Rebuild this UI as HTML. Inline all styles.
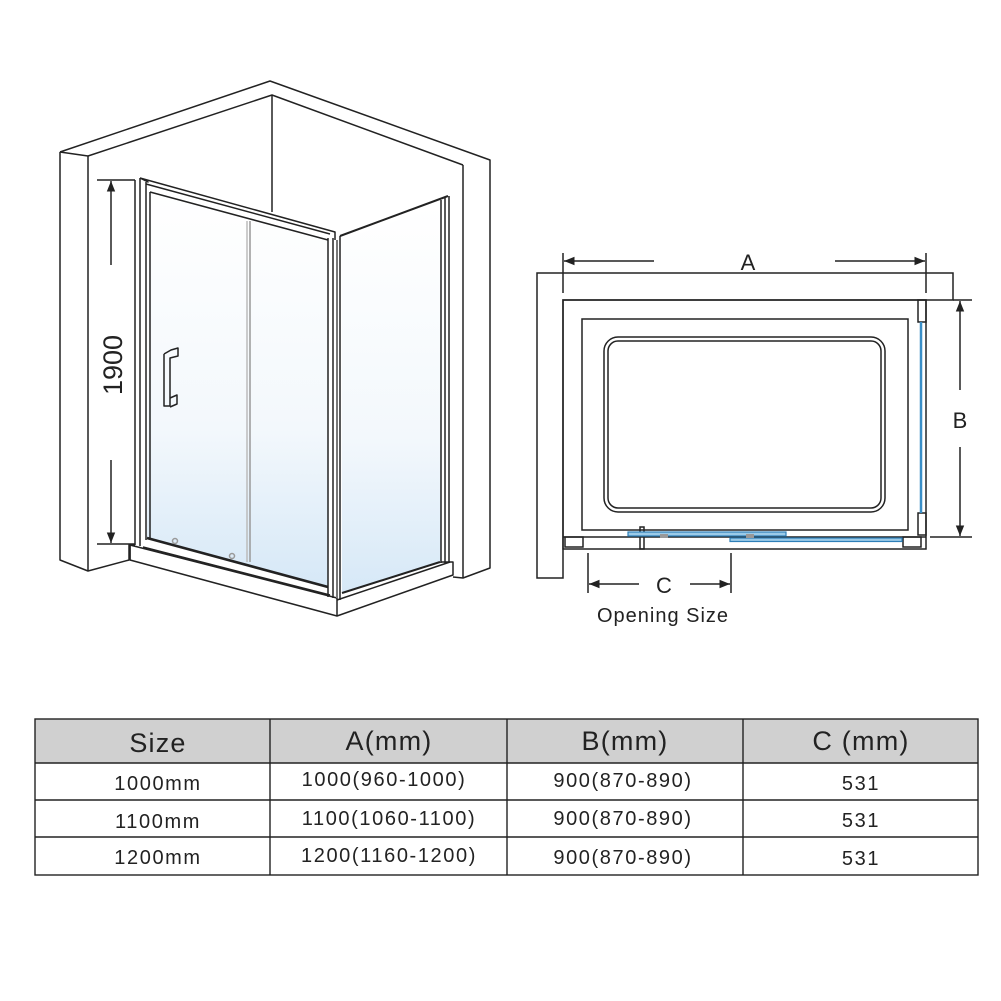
<!DOCTYPE html>
<html><head><meta charset="utf-8"><style>
html,body{margin:0;padding:0;background:#fff;}
svg{display:block;}
text{font-family:"Liberation Sans",sans-serif;fill:#222;}
</style></head><body>
<svg width="1001" height="1001" viewBox="0 0 1001 1001" xmlns="http://www.w3.org/2000/svg">
<defs>
<linearGradient id="gl" x1="0" y1="0" x2="0" y2="1">
<stop offset="0" stop-color="#ffffff"/>
<stop offset="0.6" stop-color="#f3f8fc"/>
<stop offset="1" stop-color="#d6e8f7"/>
</linearGradient>
<marker id="ar" viewBox="0 0 10 10" refX="10" refY="5" markerWidth="7" markerHeight="7" orient="auto-start-reverse"><path d="M0,1 L10,5 L0,9 z" fill="#222"/></marker>
</defs>
<g fill="none" stroke="#222" stroke-width="1.5" stroke-linejoin="round">
<path d="M60,152 L270,81 L490,160 L490,568 L463,578 L453,577"/>
<path d="M60,152 L88,156 L272,95 L463,165"/>
<path d="M272,95 L272,212"/>
<path d="M60,152 L60,560 L88,571 L129,560 L129,545 L135,545"/>
<path d="M88,156 L88,571"/>
<path d="M463,165 L463,578"/>
<path d="M130,545 L130,560 L337,616 L453,575 L453,562 L440,562"/>
<path d="M130,560 L130,545 L337,598 L337,616"/>
<path d="M337,600 L450,562"/>
<path d="M143,547 L330,595"/>
<polygon points="150,192 328,240 328,587 147,538" fill="url(#gl)" stroke="none"/>
<polygon points="342,240 441,205 441,562 342,593" fill="url(#gl)" stroke="none"/>
<path d="M135,180 L135,545 M140,178 L140,546 M146,182 L146,540 M150,192 L150,538"/>
<path d="M140,178 L335,232 L335,240 M146,184 L330,234 M150,192 L328,240"/>
<path d="M140,178 L148,182 L145,180"/>
<path d="M147,538 L328,587" stroke-width="2.6"/>
<path d="M250,221 L250,562" stroke="#999"/>
<path d="M247,221 L247,562" stroke="#bbb"/>
<path d="M328,238 L328,597 M333,238 L333,598 M340,236 L340,600"/>
<path d="M337,240 L337,598" stroke="#777" stroke-width="2"/>
<path d="M340,236 L448,196" stroke-width="2"/>
<path d="M342,593 L440,562" stroke-width="2"/>
<path d="M441,200 L441,563 M445,198 L445,563 M449,196 L449,562"/>
<path d="M164,354 L164,406 L170,406 L170,358 L178,356 L178,348 L171,350 L164,354"/>
<path d="M170,398 L177,395 L177,404 L170,407"/>
<circle cx="175" cy="541" r="2.5" stroke="#999"/>
<circle cx="232" cy="556" r="2.5" stroke="#999"/>
<path d="M97,180 L135,180 M97,544 L135,544"/>
<path d="M111,265 L111,181" marker-end="url(#ar)"/>
<path d="M111,460 L111,543" marker-end="url(#ar)"/>
</g>
<text x="0" y="0" font-size="27" text-anchor="middle" transform="translate(122,365) rotate(-90)">1900</text>

<g fill="none" stroke="#222" stroke-width="1.5">
<path d="M537,273 L953,273 L953,300 L563,300 L563,578 L537,578 Z"/>
<rect x="563" y="300" width="363" height="249"/>
<rect x="582" y="319" width="326" height="211"/>
<rect x="604" y="337" width="281" height="175" rx="14"/>
<rect x="608" y="341" width="273" height="167" rx="10"/>
<path d="M563,253 L563,293 M926,253 L926,293"/>
<path d="M654,261 L564,261" marker-end="url(#ar)"/>
<path d="M835,261 L925,261" marker-end="url(#ar)"/>
<path d="M953,300 L972,300 M930,537 L972,537"/>
<path d="M960,390 L960,301" marker-end="url(#ar)"/>
<path d="M960,447 L960,536" marker-end="url(#ar)"/>
<path d="M588,553 L588,593 M731,553 L731,593"/>
<path d="M639,584 L589,584" marker-end="url(#ar)"/>
<path d="M690,584 L730,584" marker-end="url(#ar)"/>
<rect x="918" y="300" width="8" height="22"/>
<rect x="918" y="513" width="8" height="22"/>
<path d="M563,537 L926,537"/>
<rect x="565" y="537" width="18" height="10"/>
<rect x="903" y="537" width="18" height="10"/>
<rect x="640" y="527" width="4" height="22"/>
</g>
<line x1="921" y1="322" x2="921" y2="513" stroke="#3a8fc8" stroke-width="2.5"/>
<rect x="628" y="532" width="158" height="4" fill="#9ccbe8" stroke="#2e7fb8" stroke-width="1.2"/>
<rect x="730" y="538" width="172" height="3.5" fill="#9ccbe8" stroke="#2e7fb8" stroke-width="1.2"/>
<rect x="660" y="534" width="8" height="4" fill="#999"/>
<rect x="746" y="534" width="8" height="4" fill="#999"/>
<text x="748" y="270" font-size="22" text-anchor="middle">A</text>
<text x="960" y="428" font-size="22" text-anchor="middle">B</text>
<text x="664" y="593" font-size="22" text-anchor="middle">C</text>
<text x="663" y="622" font-size="20" text-anchor="middle" letter-spacing="1">Opening Size</text>

<rect x="35" y="719" width="943" height="44" fill="#d0d0d0"/>
<g stroke="#222" stroke-width="1.4" fill="none">
<rect x="35" y="719" width="943" height="156"/>
<path d="M35,763 L978,763 M35,800 L978,800 M35,837 L978,837"/>
<path d="M270,719 L270,875 M507,719 L507,875 M743,719 L743,875"/>
</g>
<g font-size="27" text-anchor="middle" letter-spacing="1.2">
<text x="158" y="752">Size</text>
<text x="389" y="750">A(mm)</text>
<text x="625" y="750">B(mm)</text>
<text x="861" y="750">C (mm)</text>
</g>
<g font-size="20" text-anchor="middle" letter-spacing="1.6">
<text x="158" y="790">1000mm</text>
<text x="384" y="786">1000(960-1000)</text>
<text x="623" y="787">900(870-890)</text>
<text x="861" y="790">531</text>
<text x="158" y="828">1100mm</text>
<text x="389" y="825">1100(1060-1100)</text>
<text x="623" y="825">900(870-890)</text>
<text x="861" y="827">531</text>
<text x="158" y="864">1200mm</text>
<text x="389" y="862">1200(1160-1200)</text>
<text x="623" y="864">900(870-890)</text>
<text x="861" y="865">531</text>
</g>
</svg>
</body></html>
